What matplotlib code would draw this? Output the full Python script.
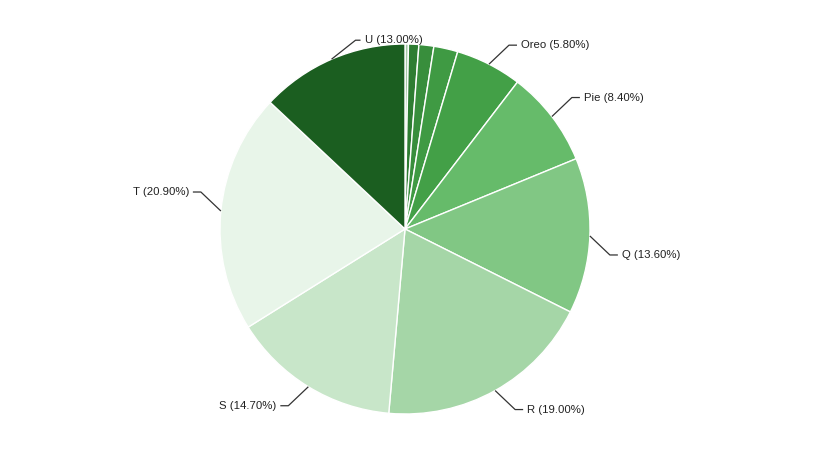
import matplotlib
matplotlib.use('Agg')
import matplotlib.pyplot as plt
import numpy as np

plt.rcParams['font.family'] = ['Liberation Sans', 'DejaVu Sans']

# Data (clockwise from 12 o'clock)
names = ['K', 'L', 'M', 'N', 'Oreo', 'Pie', 'Q', 'R', 'S', 'T', 'U']
values = [0.3, 0.9, 1.3, 2.1, 5.8, 8.4, 13.6, 19.0, 14.7, 20.9, 13.0]
colors = ['#a5c9a6', '#2e7d32', '#388e3c', '#3f9a43', '#43a047', '#66bb6a',
          '#81c784', '#a5d6a7', '#c8e6c9', '#e8f5e9', '#1b5e20']
min_label_pct = 5.0

W, H = 825, 466
fig = plt.figure(figsize=(W / 100, H / 100), dpi=100)
ax = fig.add_axes([0, 0, 1, 1])

cx, cy, r = 405, H - 229, 185
ax.pie(values, colors=colors, startangle=90, counterclock=False,
       center=(cx, cy), radius=r,
       wedgeprops=dict(edgecolor='white', linewidth=1))

total = sum(values)
cum = 0.0
for name, v in zip(names, values):
    mid = (cum + v / 2) / total * 2 * np.pi
    cum += v
    if v < min_label_pct:
        continue
    s, c = np.sin(mid), np.cos(mid)
    sx = 1 if s >= 0 else -1
    sy = 1 if c >= 0 else -1
    if c > 0.9:          # labels near the top point to the right
        sx = 1
    ex, ey = cx + r * s, cy + r * c
    dxl = 20 if s * sx > 0 else 24
    bx, by = ex + dxl * sx, ey + 19 * sy
    hx = bx + (8 if s * sx > 0 else 5) * sx
    ax.plot([ex, bx, hx], [ey, by, by], color='#333333', lw=0.9,
            solid_capstyle='butt', zorder=3)
    ax.text(hx + 4 * sx, by, f"{name} ({v:.2f}%)",
            ha='left' if sx > 0 else 'right', va='center',
            fontsize=8.2, color='#222222')

ax.set_xlim(0, W)
ax.set_ylim(0, H)
ax.set_aspect('equal')
ax.axis('off')

fig.savefig('out.png', dpi=100, facecolor='white')
